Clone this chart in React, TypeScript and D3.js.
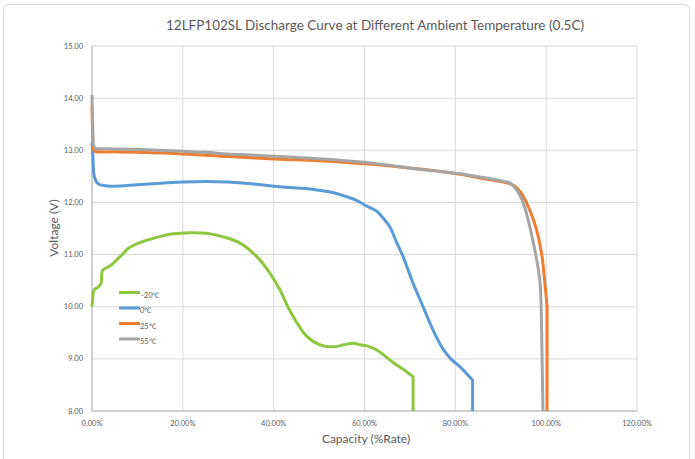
import React from 'react';
import * as d3 from 'd3';

// capacity (%) / voltage (V) pairs
const minus20Cap = [0, 0.15, 0.44, 1.39, 2.0, 2.36, 3.96, 5.44, 6.89, 7.99, 10.57, 14.24, 17.9, 21.58, 25.25, 28.9, 32.6, 36.3, 39.2, 41.4, 43.6, 47.3, 50.2, 53.1, 55.5, 57.5, 59.0, 60.5, 62.7, 66.3, 68.5, 70.7, 70.7];
const minus20V = [10.0, 10.15, 10.32, 10.38, 10.45, 10.7, 10.78, 10.9, 11.02, 11.12, 11.23, 11.33, 11.4, 11.42, 11.41, 11.34, 11.22, 10.96, 10.64, 10.32, 9.92, 9.43, 9.27, 9.23, 9.27, 9.3, 9.27, 9.25, 9.17, 8.93, 8.8, 8.66, 8.0];

const zeroCap = [0, 0.2, 0.4, 0.8, 1.5, 3, 5, 10, 15, 20, 25, 30, 35, 41.4, 48.7, 53, 56, 58, 60.5, 62.7, 64.1, 65.6, 67, 68.5, 70.7, 72.9, 75.1, 77.2, 79, 81, 83.8, 83.8];
const zeroV = [13.15, 12.9, 12.55, 12.42, 12.35, 12.32, 12.31, 12.34, 12.37, 12.39, 12.4, 12.39, 12.36, 12.3, 12.25, 12.19, 12.11, 12.05, 11.93, 11.83, 11.7, 11.53, 11.25, 10.96, 10.45, 10.0, 9.55, 9.2, 9.0, 8.85, 8.59, 8.0];

const c25Cap = [0, 0.15, 0.3, 0.7, 5, 10, 20, 30, 41.4, 50, 60, 70, 80.3, 85.4, 90, 92.8, 94.6, 96.4, 97.9, 99, 99.5, 99.9, 100.2, 100.2];
const c25V = [13.85, 13.3, 13.02, 12.98, 12.97, 12.96, 12.93, 12.88, 12.83, 12.8, 12.74, 12.66, 12.55, 12.47, 12.4, 12.33, 12.17, 11.85, 11.47, 11.02, 10.64, 10.3, 10.0, 8.0];

const c55Cap = [0, 0.15, 0.35, 0.7, 3, 10, 15, 20, 25, 30, 35, 41.4, 50, 60, 65, 70.7, 75, 80.3, 85.4, 89.8, 92, 93.5, 95, 96.4, 97.5, 98.6, 99.0, 99.3];
const c55V = [14.06, 13.5, 13.1, 13.04, 13.03, 13.02, 13.0, 12.98, 12.96, 12.93, 12.91, 12.88, 12.84, 12.77, 12.72, 12.65, 12.61, 12.56, 12.49, 12.42, 12.37, 12.24, 11.98, 11.53, 11.09, 10.5, 9.5, 8.0];

const seriesNames = ['-20℃', '0℃', '25℃', '55℃'];
const seriesColors = ['#8dc63f', '#5b9bd5', '#ed7d31', '#a5a5a5'];

const xTicks = [0, 20, 40, 60, 80, 100, 120];
const yTicks = [8, 9, 10, 11, 12, 13, 14, 15];

const W = 695;
const H = 459;
const font = 'Lato, "Open Sans", sans-serif';
const textColor = '#595959';

const App = () => {
  const x = d3.scaleLinear().domain([0, 120]).range([92, 637]);
  const y = d3.scaleLinear().domain([8, 15]).range([411, 46]);

  const line = d3.line<[number, number]>()
    .x(d => x(d[0]))
    .y(d => y(d[1]))
    .curve(d3.curveCatmullRom.alpha(0.5));

  const series = [
    d3.zip(minus20Cap, minus20V),
    d3.zip(zeroCap, zeroV),
    d3.zip(c25Cap, c25V),
    d3.zip(c55Cap, c55V),
  ] as [number, number][][];

  // smooth body, then a straight cut-off drop to the last point
  const pathFor = (s: [number, number][]) => {
    const last = s[s.length - 1];
    return (line(s.slice(0, -1)) || '') + `L${x(last[0])},${y(last[1])}`;
  };

  return (
    <svg width={W} height={H} style={{ position: 'absolute', left: 0, top: 0 }}>
      <rect x={0} y={0} width={W} height={H} fill="#fff" />
      <rect x={3.5} y={4.5} width={686} height={480} rx={5} fill="#fff" stroke="#d9d9d9" />

      <text x={375} y={30} textAnchor="middle" fontFamily={font} fontSize={13.5} fill={textColor}>
        12LFP102SL Discharge Curve at Different Ambient Temperature (0.5C)
      </text>

      {/* grid */}
      {yTicks.filter(t => t > 8).map(t => (
        <line key={'gy' + t} x1={x(0)} x2={x(120)} y1={y(t)} y2={y(t)} stroke="#d9d9d9" strokeWidth={1} />
      ))}
      {xTicks.filter(t => t > 0).map(t => (
        <line key={'gx' + t} x1={x(t)} x2={x(t)} y1={y(8)} y2={y(15)} stroke="#d9d9d9" strokeWidth={1} />
      ))}
      <line x1={x(0)} x2={x(120)} y1={y(8)} y2={y(8)} stroke="#bfbfbf" strokeWidth={1.5} />
      <line x1={x(0)} x2={x(0)} y1={y(8)} y2={y(15)} stroke="#bfbfbf" strokeWidth={1.5} />

      {/* tick labels */}
      {yTicks.map(t => (
        <text key={'ty' + t} x={83} y={y(t)} dy="0.35em" textAnchor="end" fontFamily={font} fontSize={7.5} fill={textColor}>
          {t.toFixed(2)}
        </text>
      ))}
      {xTicks.map(t => (
        <text key={'tx' + t} x={x(t)} y={426} textAnchor="middle" fontFamily={font} fontSize={7.5} fill={textColor}>
          {t.toFixed(2) + '%'}
        </text>
      ))}

      <text x={366} y={443} textAnchor="middle" fontFamily={font} fontSize={12} fill={textColor}>Capacity (%Rate)</text>
      <text transform={`translate(58,228) rotate(-90)`} textAnchor="middle" fontFamily={font} fontSize={12} fill={textColor}>Voltage (V)</text>

      {/* curves */}
      {series.map((s, i) => (
        <path key={'s' + i} d={pathFor(s)} fill="none" stroke={seriesColors[i]} strokeWidth={3} strokeLinejoin="round" />
      ))}

      {/* legend */}
      {seriesNames.map((n, i) => (
        <g key={'l' + i} transform={`translate(119,${292.5 + i * 15.5})`}>
          <line x1={0} x2={21} y1={0} y2={0} stroke={seriesColors[i]} strokeWidth={3} />
          <text x={i === 0 ? 22 : 21} y={5} fontFamily={font} fontSize={7.5} fill={textColor}>{n}</text>
        </g>
      ))}
    </svg>
  );
};

export default App;
